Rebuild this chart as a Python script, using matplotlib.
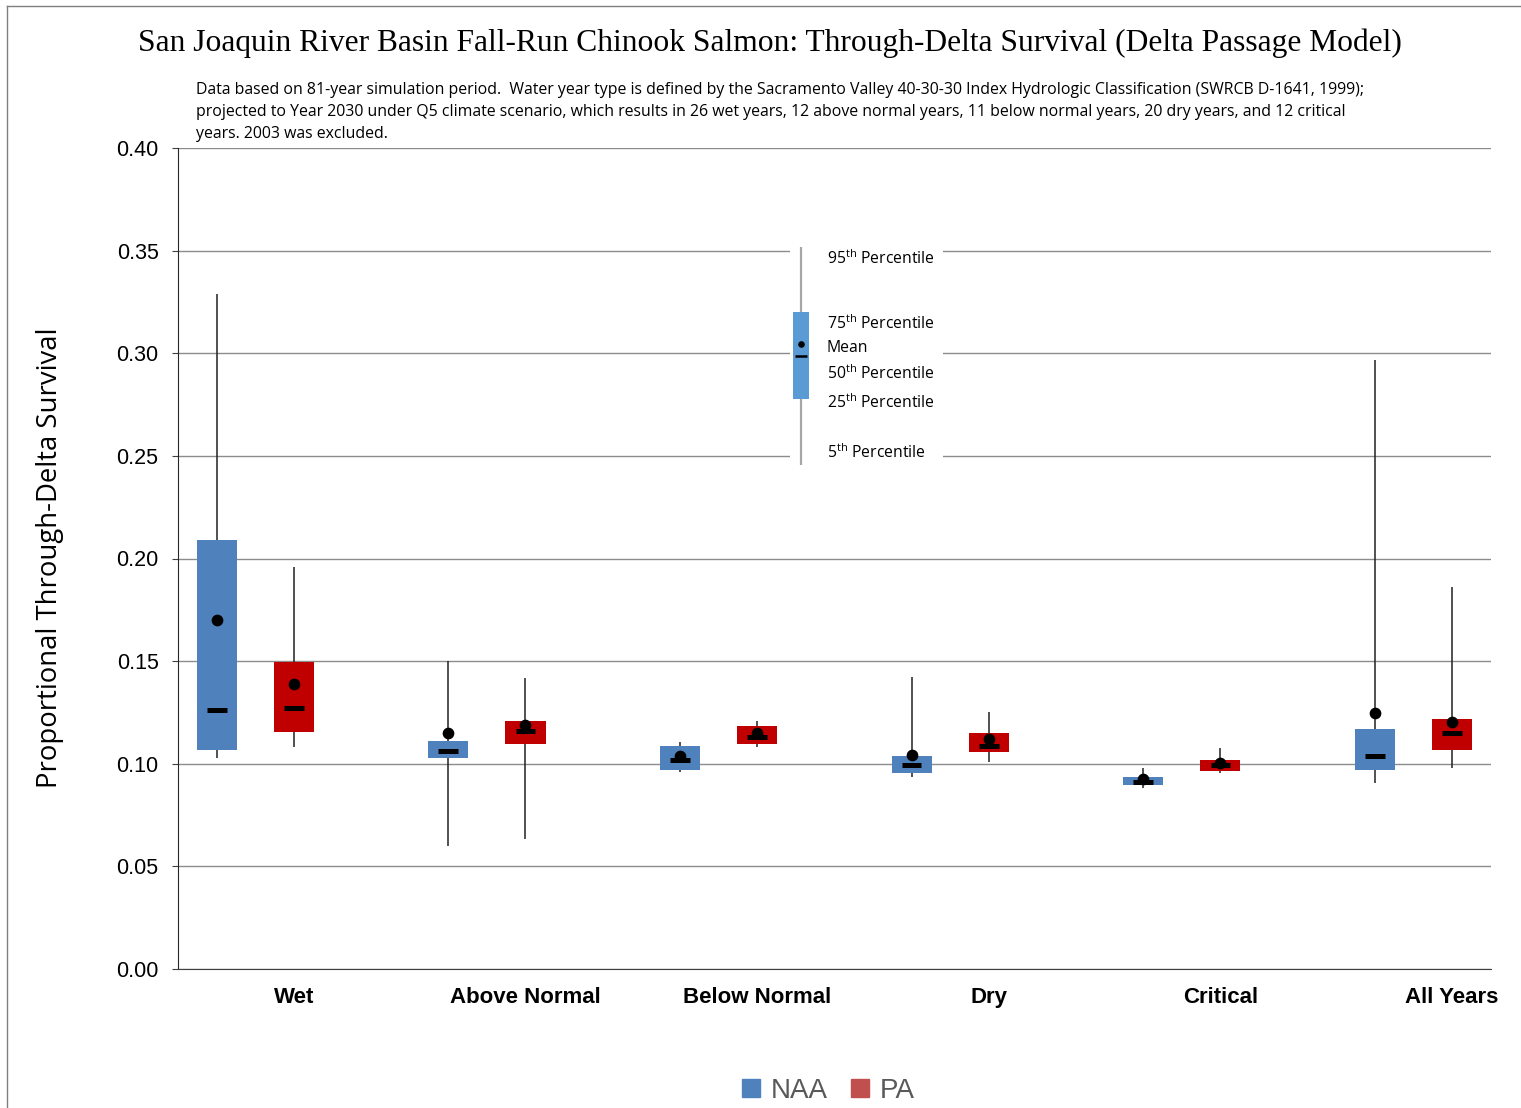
import numpy as np
import matplotlib.pyplot as plt
from matplotlib.lines import Line2D
from matplotlib.patches import Rectangle

plt.rcParams['mathtext.fontset'] = 'custom'
plt.rcParams['mathtext.rm'] = 'Open Sans'

categories = ['Wet', 'Above Normal', 'Below Normal', 'Dry', 'Critical', 'All Years']

# 5th, 25th, 50th, 75th, 95th percentiles and mean for each year type
naa_p5 = [0.103, 0.060, 0.0961, 0.0935, 0.0880, 0.0905]
naa_p25 = [0.1067, 0.103, 0.097, 0.0953, 0.0896, 0.097]
naa_p50 = [0.126, 0.106, 0.1018, 0.0994, 0.0913, 0.1038]
naa_p75 = [0.209, 0.111, 0.1087, 0.1039, 0.0937, 0.1169]
naa_p95 = [0.329, 0.150, 0.1106, 0.1424, 0.0978, 0.2967]
naa_mean = [0.170, 0.115, 0.1038, 0.1043, 0.0924, 0.1249]

pa_p5 = [0.108, 0.0632, 0.108, 0.1007, 0.0953, 0.0978]
pa_p25 = [0.1155, 0.1098, 0.1098, 0.1056, 0.0965, 0.1067]
pa_p50 = [0.127, 0.116, 0.1132, 0.1088, 0.0994, 0.1148]
pa_p75 = [0.1496, 0.121, 0.1186, 0.1151, 0.1018, 0.1218]
pa_p95 = [0.196, 0.1418, 0.1208, 0.1254, 0.1075, 0.1861]
pa_mean = [0.139, 0.1189, 0.1148, 0.1121, 0.1005, 0.1202]

# example box used as a key
key_vals = {'p5': 0.2456, 'p25': 0.2777, 'p50': 0.2987, 'mean': 0.3045, 'p75': 0.320, 'p95': 0.3518}
key_labels = [(0.3460, r'95$^{\mathrm{th}}$ Percentile'),
              (0.3143, r'75$^{\mathrm{th}}$ Percentile'),
              (0.3026, 'Mean'),
              (0.2900, r'50$^{\mathrm{th}}$ Percentile'),
              (0.2758, r'25$^{\mathrm{th}}$ Percentile'),
              (0.2515, r'5$^{\mathrm{th}}$ Percentile')]

W, H = 1521, 1108
fig = plt.figure(figsize=(W / 100, H / 100), dpi=100)
ax = fig.add_axes([178 / W, 1 - 969 / H, (1491 - 178) / W, (969 - 148) / H])

blue = '#4F81BD'
red = '#C00000'
x = np.arange(len(categories))
box_w = 0.173
med_w = 0.085


def draw_boxes(pos, p5, p25, p50, p75, p95, mean, color, wcolor):
    ax.vlines(pos, p5, p95, color=wcolor, lw=1.1, zorder=2)
    ax.bar(pos, np.array(p75) - np.array(p25), bottom=p25, width=box_w,
           color=color, zorder=3)
    ax.hlines(p50, pos - med_w / 2, pos + med_w / 2, color='black', lw=3.6, zorder=4)
    ax.scatter(pos, mean, s=55, color='black', zorder=5)


draw_boxes(x - 0.333, naa_p5, naa_p25, naa_p50, naa_p75, naa_p95, naa_mean, blue, '#222222')
draw_boxes(x, pa_p5, pa_p25, pa_p50, pa_p75, pa_p95, pa_mean, red, '#222222')

# key box
kx = 2.189
ax.add_patch(Rectangle((2.142, 0.243), 0.66, 0.115, facecolor='white', edgecolor='none', zorder=1))
ax.vlines(kx, key_vals['p5'], key_vals['p95'], color='#A6A6A6', lw=1.6, zorder=2)
ax.bar(kx, key_vals['p75'] - key_vals['p25'], bottom=key_vals['p25'], width=0.069,
       color='#5B9BD5', zorder=3)
ax.hlines(key_vals['p50'], kx - 0.025, kx + 0.025, color='black', lw=1.8, zorder=4)
ax.scatter([kx], [key_vals['mean']], s=14, color='black', zorder=5)
for yv, txt in key_labels:
    ax.text(2.301, yv, txt, fontsize=11.3, family='Open Sans', va='center', ha='left', zorder=6)

ax.set_xlim(-0.5, 5.168)
ax.set_ylim(0, 0.40)
ax.set_yticks(np.arange(0, 0.401, 0.05))
ax.set_yticklabels([f'{v:.2f}' for v in np.arange(0, 0.401, 0.05)],
                   fontsize=15.5, family='Liberation Sans')
ax.yaxis.grid(True, color='#8C8C8C', lw=1.0, zorder=0)
ax.set_axisbelow(True)
ax.set_xticks(x)
ax.set_xticklabels(categories, fontsize=16, fontweight='bold', family='Liberation Sans')
ax.tick_params(axis='x', length=0, pad=13)
ax.tick_params(axis='y', length=4, color='#404040', pad=10)
for s in ['top', 'right']:
    ax.spines[s].set_visible(False)
ax.spines['left'].set_color('#262626')
ax.spines['bottom'].set_color('#404040')

fig.text(50 / W, 1 - 558 / H, 'Proportional Through-Delta Survival', fontsize=19.8,
         family='Open Sans', rotation=90, ha='center', va='center')

fig.text(770 / W, 1 - 43 / H,
         'San Joaquin River Basin Fall-Run Chinook Salmon: Through-Delta Survival (Delta Passage Model)',
         fontsize=22.7, family='Liberation Serif', ha='center', va='center')
fig.text(196 / W, 1 - 82 / H,
         'Data based on 81-year simulation period.  Water year type is defined by the Sacramento Valley '
         '40-30-30 Index Hydrologic Classification (SWRCB D-1641, 1999);\n'
         'projected to Year 2030 under Q5 climate scenario, which results in 26 wet years, 12 above normal '
         'years, 11 below normal years, 20 dry years, and 12 critical\n'
         'years. 2003 was excluded.',
         fontsize=11.4, family='Open Sans', ha='left', va='top', linespacing=1.5)

# chart border
fig.add_artist(Line2D([7 / W, 7 / W], [0, 1 - 6 / H], color='#7F7F7F', lw=1.0))
fig.add_artist(Line2D([7 / W, 1], [1 - 6 / H, 1 - 6 / H], color='#7F7F7F', lw=1.0))

handles = [Line2D([], [], marker='s', ls='none', color='#4F81BD', markersize=13),
           Line2D([], [], marker='s', ls='none', color='#C0504D', markersize=13)]
leg = fig.legend(handles, ['NAA', 'PA'], loc='center', bbox_to_anchor=(828 / W, 1 - 1091 / H),
                 ncol=2, frameon=False, handlelength=0.7, handletextpad=0.35, columnspacing=0.8,
                 prop={'family': 'Liberation Sans', 'size': 20})
for t in leg.get_texts():
    t.set_color('#595959')

fig.savefig('out.png', dpi=100)
